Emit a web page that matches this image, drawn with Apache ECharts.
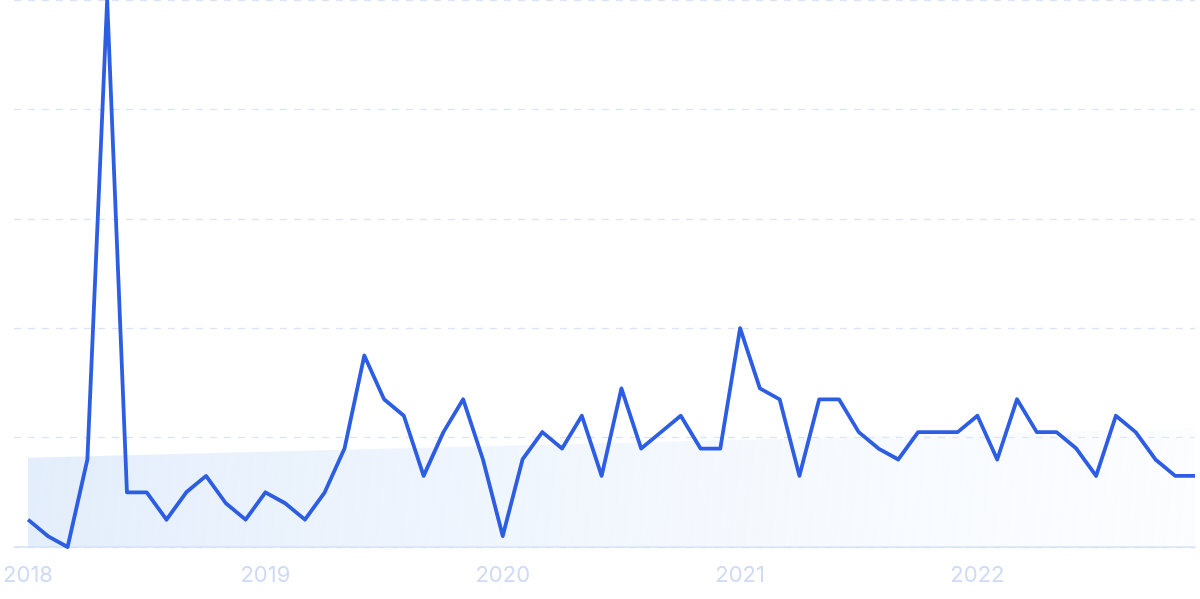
<!DOCTYPE html>
<html>
<head>
<meta charset="utf-8">
<script src="https://cdn.jsdelivr.net/npm/echarts@6/dist/echarts.min.js"></script>
<style>
html,body{margin:0;padding:0;background:#fff;}
#chart{width:1200px;height:599px;}
</style>
</head>
<body>
<div id="chart"></div>
<script>
const months = [
  '2018-01','2018-02','2018-03','2018-04','2018-05','2018-06','2018-07','2018-08','2018-09','2018-10','2018-11','2018-12',
  '2019-01','2019-02','2019-03','2019-04','2019-05','2019-06','2019-07','2019-08','2019-09','2019-10','2019-11','2019-12',
  '2020-01','2020-02','2020-03','2020-04','2020-05','2020-06','2020-07','2020-08','2020-09','2020-10','2020-11','2020-12',
  '2021-01','2021-02','2021-03','2021-04','2021-05','2021-06','2021-07','2021-08','2021-09','2021-10','2021-11','2021-12',
  '2022-01','2022-02','2022-03','2022-04','2022-05','2022-06','2022-07','2022-08','2022-09','2022-10','2022-11','2022-12'
];
const interest = [
  5, 2, 0, 16, 100, 10, 10, 5, 10, 13, 8, 5,
  10, 8, 5, 10, 18, 35, 27, 24, 13, 21, 27, 16,
  2, 16, 21, 18, 24, 13, 29, 18, 21, 24, 18, 18,
  40, 29, 27, 13, 27, 27, 21, 18, 16, 21, 21, 21,
  24, 16, 27, 21, 21, 18, 13, 24, 21, 16, 13, 13
];
const trendMonths = ['2018-01', '2022-12'];
const trendValues = [16.3, 21.7];
const yearLabels = ['2018', '2019', '2020', '2021', '2022'];
const yearMonths = ['2018-01', '2019-01', '2020-01', '2021-01', '2022-01'];
const yTicks = [0, 20, 40, 60, 80, 100];

const idx = m => months.indexOf(m);
const mainData = interest.map((v, i) => [i, v]);
const trendData = trendMonths.map((m, i) => [idx(m), trendValues[i]]);
const labelPositions = yearMonths.map(idx);

const chart = echarts.init(document.getElementById('chart'), null, {renderer: 'canvas'});
chart.setOption({
  animation: false,
  grid: {left: 14, right: 5, top: 0, bottom: 52, containLabel: false},
  xAxis: {
    type: 'value',
    min: -0.71,
    max: months.length - 1,
    axisLine: {show: true, lineStyle: {color: '#d5e0f7', width: 1.5}},
    axisTick: {show: false},
    splitLine: {show: false},
    axisLabel: {
      customValues: labelPositions,
      formatter: v => yearLabels[labelPositions.indexOf(Math.round(v))] || '',
      color: '#cfdaf5',
      fontFamily: 'Inter',
      fontSize: 22,
      margin: 17
    }
  },
  yAxis: {
    type: 'value',
    min: yTicks[0],
    max: yTicks[yTicks.length - 1],
    interval: 20,
    axisLine: {show: false},
    axisTick: {show: false},
    axisLabel: {show: false},
    splitLine: {show: true, lineStyle: {color: '#d9e4fb', type: [7, 7], width: 1.3}}
  },
  series: [
    {
      type: 'line',
      data: trendData,
      symbol: 'none',
      silent: true,
      z: 1,
      lineStyle: {width: 0, opacity: 0},
      areaStyle: {
        color: new echarts.graphic.LinearGradient(0, 0, 1, 1, [
          {offset: 0, color: 'rgba(208,226,249,0.85)'},
          {offset: 0.5, color: 'rgba(224,236,252,0.6)'},
          {offset: 1, color: 'rgba(240,246,254,0.35)'}
        ]),
        origin: 'start'
      }
    },
    {
      type: 'line',
      data: mainData,
      symbol: 'none',
      z: 3,
      lineStyle: {color: '#2c5de2', width: 3.8, join: 'round'}
    }
  ]
});
</script>
</body>
</html>
